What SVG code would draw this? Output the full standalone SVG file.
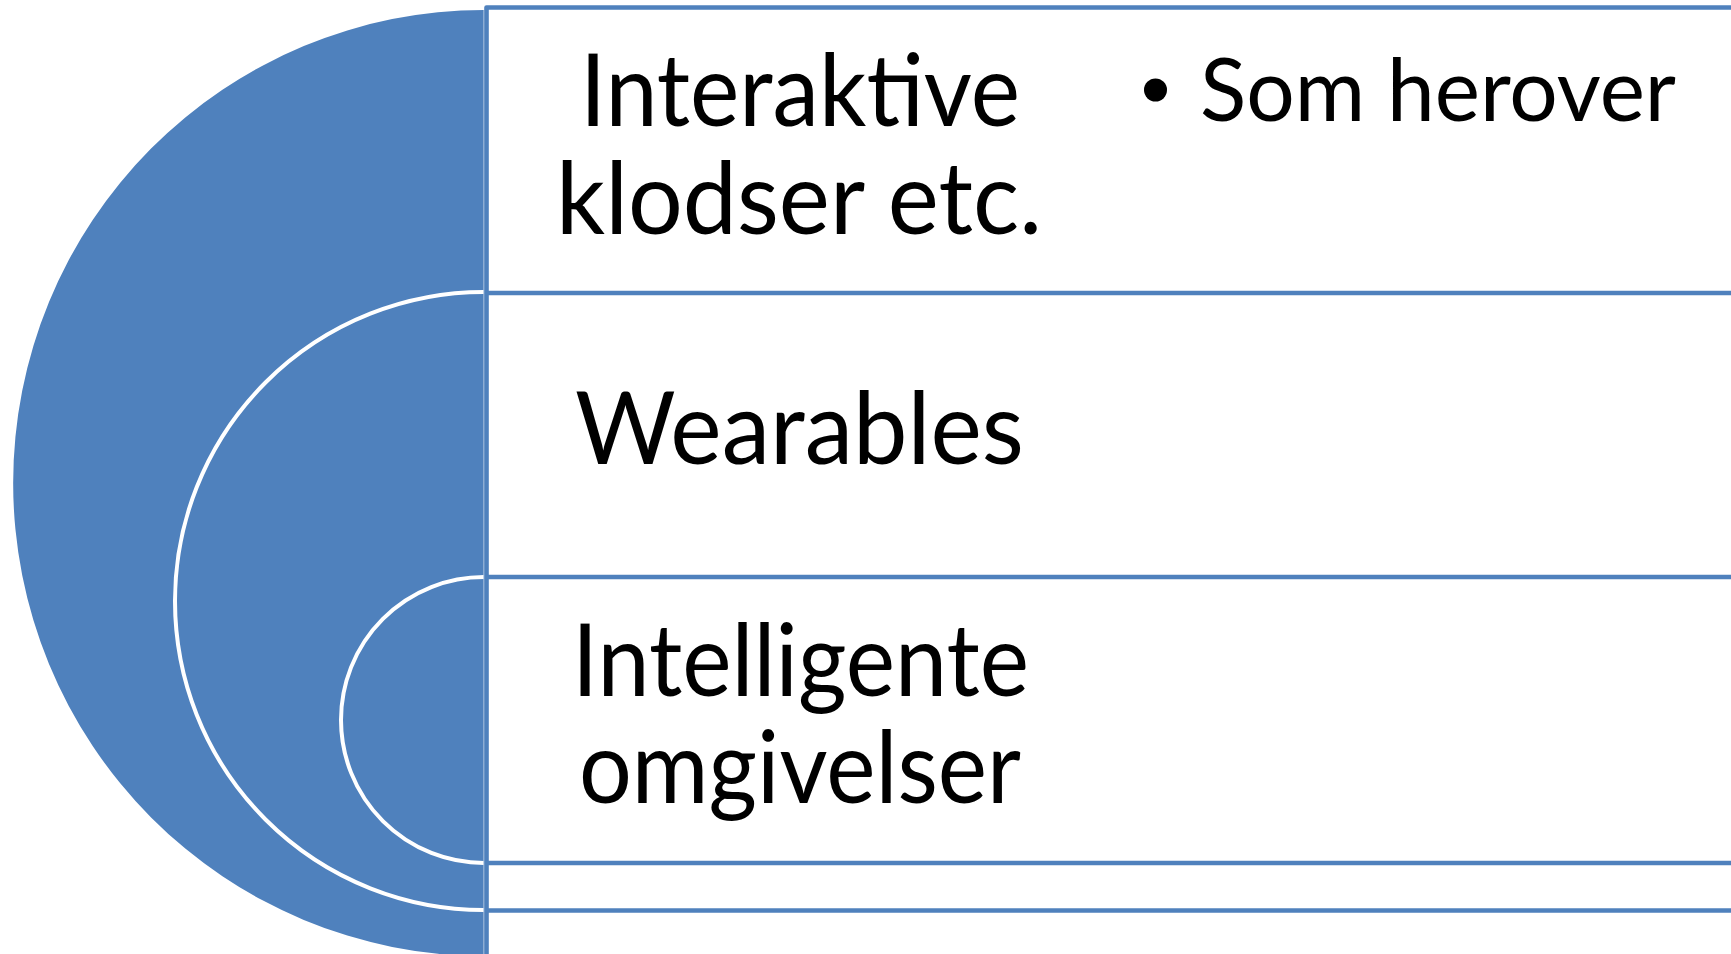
<svg xmlns="http://www.w3.org/2000/svg" width="1731" height="954" viewBox="0 0 1731 954">
  <style>
    .disc { fill: #4F81BD; }
    .ring { fill: none; stroke: #FFFFFF; stroke-width: 4; }
    .rule { fill: none; stroke: #4F81BD; stroke-width: 4.6; stroke-linejoin: round; }
    .label { font-family: "Lato", "Open Sans", "Liberation Sans", sans-serif; font-size: 100px; fill: #000000; }
    .sub { font-family: "Lato", "Open Sans", "Liberation Sans", sans-serif; font-size: 88px; fill: #000000; }
  </style>
  <rect width="1731" height="954" fill="#FFFFFF"/>

  <!-- outer target: Interaktive klodser etc. -->
  <g id="node-interaktive">
    <path class="disc" d="M 484 10 A 471 473 0 0 0 484 956 Z"/>
    <text class="label"><tspan x="580" y="126" textLength="440" lengthAdjust="spacingAndGlyphs">Interaktive</tspan><tspan x="556" y="234" textLength="486" lengthAdjust="spacingAndGlyphs">klodser etc.</tspan></text>
    <circle cx="1155.5" cy="90" r="11.5" fill="#000000"/>
    <text class="sub" x="1200" y="121" textLength="476" lengthAdjust="spacingAndGlyphs">Som herover</text>
  </g>

  <!-- middle target: Wearables -->
  <g id="node-wearables">
    <path class="disc" d="M 484 292 A 309 309 0 0 0 484 910 Z"/>
    <path class="ring" d="M 484 292 A 309 309 0 0 0 484 910"/>
    <text class="label" x="575" y="464" textLength="449" lengthAdjust="spacingAndGlyphs">Wearables</text>
  </g>

  <!-- inner target: Intelligente omgivelser -->
  <g id="node-intelligente">
    <path class="disc" d="M 484 577 A 143 143 0 0 0 484 863 Z"/>
    <path class="ring" d="M 484 577 A 143 143 0 0 0 484 863"/>
    <text class="label"><tspan x="572" y="696" textLength="457" lengthAdjust="spacingAndGlyphs">Intelligente</tspan><tspan x="579" y="803" textLength="442" lengthAdjust="spacingAndGlyphs">omgivelser</tspan></text>
  </g>

  <!-- text box outlines -->
  <g id="connectors">
    <line x1="483.8" y1="10" x2="483.8" y2="954" stroke="#A9C0DE" stroke-width="1"/>
    <path class="rule" d="M 1733 7.5 H 486.5 V 956"/>
    <line class="rule" x1="486.5" y1="293" x2="1733" y2="293"/>
    <line class="rule" x1="486.5" y1="577" x2="1733" y2="577"/>
    <line class="rule" x1="486.5" y1="863" x2="1733" y2="863"/>
    <line class="rule" x1="486.5" y1="910.5" x2="1733" y2="910.5"/>
  </g>
</svg>
